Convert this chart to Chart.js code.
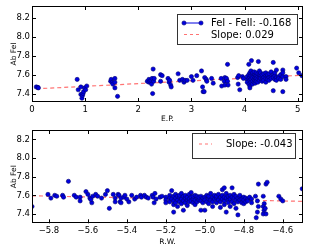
<!DOCTYPE html>
<html>
<head>
<meta charset="utf-8">
<script src="https://cdn.jsdelivr.net/npm/chart.js@4.4.1/dist/chart.umd.min.js"></script>
<style>
    html, body { margin: 0; padding: 0; background: #fff; }
    canvas { position: absolute; left: 0; }
    #ep_chart { top: 0; }
    #rw_chart { top: 125px; }
</style>
</head>
<body>
<canvas id="ep_chart" width="312" height="125"></canvas>
<canvas id="rw_chart" width="312" height="125"></canvas>
<script>
// FeI abundance vs excitation potential (E.P.)
const ep_points = [
    [0.08, 7.47], [0.11, 7.465], [0.12, 7.46],
    [0.85, 7.55], [0.87, 7.44], [0.92, 7.47], [0.92, 7.39], [0.94, 7.35], [0.95, 7.38], [0.96, 7.40],
    [0.97, 7.42], [0.99, 7.46], [1.01, 7.44], [1.03, 7.48],
    [1.48, 7.53], [1.49, 7.55], [1.51, 7.52], [1.52, 7.50], [1.56, 7.56], [1.56, 7.52], [1.56, 7.46], [1.61, 7.37],
    [2.17, 7.53], [2.20, 7.52], [2.20, 7.55], [2.22, 7.53], [2.24, 7.54], [2.25, 7.50], [2.26, 7.56], [2.28, 7.66],
    [2.27, 7.40], [2.29, 7.53], [2.30, 7.56],
    [2.42, 7.60], [2.45, 7.59], [2.42, 7.53], [2.56, 7.56], [2.58, 7.52], [2.59, 7.54], [2.61, 7.49], [2.62, 7.47],
    [2.75, 7.61], [2.78, 7.54], [2.83, 7.55], [2.86, 7.52], [2.88, 7.54], [2.92, 7.54],
    [3.00, 7.58], [3.03, 7.54], [3.10, 7.59],
    [3.19, 7.64], [3.21, 7.47], [3.22, 7.42], [3.24, 7.42], [3.25, 7.57], [3.28, 7.55], [3.29, 7.53], [3.38, 7.56], [3.41, 7.51],
    [3.56, 7.56], [3.57, 7.48], [3.62, 7.53], [3.63, 7.57], [3.63, 7.49], [3.66, 7.56], [3.68, 7.71], [3.68, 7.53], [3.69, 7.49],
    [3.87, 7.57], [3.88, 7.50], [3.89, 7.59], [3.91, 7.44], [3.96, 7.58], [3.98, 7.56],
    [4.05, 7.55], [4.05, 7.58], [4.05, 7.52], [4.08, 7.60], [4.08, 7.56], [4.08, 7.71], [4.08, 7.50],
    [4.10, 7.62], [4.10, 7.57], [4.10, 7.54], [4.10, 7.48], [4.10, 7.46],
    [4.12, 7.59], [4.12, 7.55], [4.12, 7.52], [4.12, 7.64], [4.13, 7.75],
    [4.15, 7.60], [4.15, 7.57], [4.15, 7.53], [4.15, 7.50], [4.15, 7.62],
    [4.18, 7.58], [4.18, 7.55], [4.18, 7.61], [4.18, 7.52], [4.18, 7.63],
    [4.20, 7.57], [4.20, 7.60], [4.20, 7.54], [4.20, 7.51],
    [4.22, 7.59], [4.22, 7.56], [4.22, 7.62], [4.22, 7.53],
    [4.25, 7.58], [4.25, 7.55], [4.26, 7.74], [4.25, 7.61], [4.25, 7.52],
    [4.28, 7.57], [4.28, 7.60], [4.28, 7.54], [4.28, 7.64],
    [4.30, 7.59], [4.30, 7.56], [4.30, 7.62],
    [4.33, 7.58], [4.33, 7.55], [4.33, 7.53], [4.33, 7.60],
    [4.36, 7.57], [4.36, 7.61], [4.36, 7.54],
    [4.40, 7.59], [4.40, 7.56], [4.40, 7.62], [4.40, 7.52],
    [4.43, 7.58], [4.43, 7.55], [4.43, 7.60],
    [4.46, 7.57], [4.46, 7.54], [4.46, 7.61],
    [4.50, 7.58], [4.50, 7.56], [4.50, 7.63],
    [4.54, 7.73], [4.54, 7.43], [4.54, 7.60], [4.54, 7.57],
    [4.57, 7.59], [4.57, 7.55], [4.57, 7.62],
    [4.60, 7.65], [4.60, 7.57], [4.60, 7.54],
    [4.64, 7.58], [4.64, 7.56], [4.68, 7.60], [4.68, 7.55],
    [4.72, 7.65], [4.72, 7.42], [4.72, 7.58], [4.72, 7.62], [4.78, 7.58], [4.78, 7.55],
    [4.98, 7.67], [5.02, 7.62], [5.08, 7.59]
];
const ep_fit_x = [0.08, 5.1];
const ep_fit_y = [7.45, 7.595];

// FeI abundance vs reduced width (R.W.)
const rw_points = [
    [-5.887, 7.48], [-5.805, 7.61], [-5.79, 7.57], [-5.77, 7.60], [-5.76, 7.59], [-5.73, 7.60], [-5.725, 7.58],
    [-5.70, 7.75], [-5.67, 7.60], [-5.66, 7.58], [-5.64, 7.58], [-5.64, 7.54], [-5.61, 7.64], [-5.60, 7.61],
    [-5.59, 7.57], [-5.58, 7.52], [-5.585, 7.555], [-5.575, 7.59], [-5.56, 7.61], [-5.55, 7.59], [-5.53, 7.57],
    [-5.51, 7.61], [-5.50, 7.65], [-5.49, 7.46], [-5.47, 7.61], [-5.46, 7.57], [-5.46, 7.53], [-5.445, 7.61],
    [-5.44, 7.60], [-5.435, 7.53], [-5.43, 7.52], [-5.43, 7.57], [-5.415, 7.58], [-5.41, 7.60], [-5.40, 7.56],
    [-5.39, 7.53], [-5.375, 7.60], [-5.36, 7.56], [-5.35, 7.58], [-5.33, 7.60], [-5.325, 7.58], [-5.31, 7.60],
    [-5.30, 7.58], [-5.29, 7.57], [-5.27, 7.60], [-5.265, 7.58], [-5.26, 7.52], [-5.256, 7.62], [-5.25, 7.56],
    [-5.23, 7.58], [-5.22, 7.59],
    [-5.20, 7.58], [-5.20, 7.55], [-5.20, 7.52], [-5.18, 7.60], [-5.18, 7.57], [-5.18, 7.53],
    [-5.17, 7.65], [-5.17, 7.56], [-5.16, 7.42], [-5.16, 7.59], [-5.16, 7.54], [-5.16, 7.50],
    [-5.15, 7.57], [-5.15, 7.52], [-5.15, 7.61], [-5.14, 7.55], [-5.14, 7.59], [-5.14, 7.48],
    [-5.13, 7.58], [-5.13, 7.53], [-5.13, 7.60], [-5.12, 7.56], [-5.12, 7.51], [-5.12, 7.62],
    [-5.11, 7.59], [-5.11, 7.44], [-5.11, 7.54], [-5.10, 7.57], [-5.10, 7.52], [-5.10, 7.60],
    [-5.09, 7.55], [-5.09, 7.58], [-5.09, 7.49], [-5.08, 7.61], [-5.08, 7.56], [-5.08, 7.53],
    [-5.07, 7.58], [-5.07, 7.54], [-5.07, 7.63], [-5.06, 7.56], [-5.06, 7.52], [-5.06, 7.59],
    [-5.05, 7.60], [-5.05, 7.55], [-5.05, 7.50], [-5.04, 7.57], [-5.04, 7.53], [-5.04, 7.59],
    [-5.03, 7.55], [-5.03, 7.58], [-5.02, 7.44], [-5.02, 7.59], [-5.02, 7.54], [-5.01, 7.57], [-5.01, 7.52],
    [-5.00, 7.44], [-5.00, 7.58], [-5.00, 7.55], [-4.99, 7.60], [-4.99, 7.53],
    [-4.98, 7.56], [-4.98, 7.59], [-4.98, 7.51], [-4.97, 7.62], [-4.97, 7.55],
    [-4.96, 7.58], [-4.96, 7.53], [-4.96, 7.48], [-4.95, 7.60], [-4.95, 7.56],
    [-4.94, 7.57], [-4.94, 7.52], [-4.94, 7.59], [-4.93, 7.55], [-4.93, 7.61],
    [-4.92, 7.58], [-4.92, 7.53], [-4.92, 7.47], [-4.91, 7.66], [-4.91, 7.56], [-4.91, 7.60],
    [-4.90, 7.68], [-4.90, 7.54], [-4.90, 7.50], [-4.90, 7.58], [-4.89, 7.42], [-4.89, 7.57], [-4.89, 7.62],
    [-4.88, 7.55], [-4.88, 7.52], [-4.88, 7.59], [-4.87, 7.60], [-4.87, 7.48], [-4.87, 7.56],
    [-4.86, 7.68], [-4.86, 7.53], [-4.86, 7.58], [-4.85, 7.57], [-4.85, 7.51], [-4.85, 7.61],
    [-4.84, 7.55], [-4.84, 7.59], [-4.84, 7.46], [-4.83, 7.39], [-4.83, 7.57], [-4.83, 7.53],
    [-4.82, 7.58], [-4.82, 7.55], [-4.82, 7.60], [-4.81, 7.56], [-4.81, 7.52],
    [-4.80, 7.51], [-4.80, 7.58], [-4.80, 7.55], [-4.79, 7.57], [-4.79, 7.53],
    [-4.78, 7.56], [-4.78, 7.54], [-4.77, 7.58], [-4.76, 7.56], [-4.76, 7.52],
    [-4.74, 7.59], [-4.73, 7.54], [-4.725, 7.48], [-4.73, 7.42], [-4.736, 7.36], [-4.725, 7.72],
    [-4.70, 7.59], [-4.695, 7.51], [-4.70, 7.48], [-4.696, 7.44], [-4.70, 7.40], [-4.686, 7.72],
    [-4.68, 7.74], [-4.686, 7.40], [-4.69, 7.46], [-4.62, 7.59], [-4.61, 7.56], [-4.60, 7.54],
    [-4.50, 7.67]
];
const rw_fit_x = [-5.887, -4.496];
const rw_fit_y = [7.595, 7.535];

const ep_x_ticks = [0, 1, 2, 3, 4, 5];
const rw_x_ticks = [-5.8, -5.6, -5.4, -5.2, -5.0, -4.8, -4.6];
const y_ticks = [7.4, 7.6, 7.8, 8.0, 8.2];

const ep_label = 'FeI - FeII: -0.168';
const ep_slope_label = 'Slope: 0.029';
const rw_slope_label = 'Slope: -0.043';

Chart.defaults.font.family = "'DejaVu Sans', sans-serif";
Chart.defaults.color = '#000';

const POINT_FILL = '#0000e0';
const POINT_EDGE = '#000070';
const FIT_COLOR = 'rgba(255, 40, 40, 0.65)';

function fmt_tick(v, digits) {
    const s = v.toFixed(digits);
    return s.replace('-', '\u2212');
}

// matplotlib style frame with inward ticks on all four sides
const frame_plugin = {
    id: 'frame',
    afterDatasetsDraw(chart) {
        const {ctx, chartArea: a, scales} = chart;
        ctx.save();
        ctx.strokeStyle = '#000';
        ctx.lineWidth = 1;
        ctx.strokeRect(Math.round(a.left) + 0.5, Math.round(a.top) + 0.5,
            Math.round(a.right - a.left) - 1, Math.round(a.bottom - a.top) - 1);
        ctx.beginPath();
        scales.x.ticks.forEach(t => {
            const px = Math.round(scales.x.getPixelForValue(t.value)) + 0.5;
            ctx.moveTo(px, a.bottom); ctx.lineTo(px, a.bottom - 4);
            ctx.moveTo(px, a.top); ctx.lineTo(px, a.top + 4);
        });
        scales.y.ticks.forEach(t => {
            const py = Math.round(scales.y.getPixelForValue(t.value)) + 0.5;
            ctx.moveTo(a.left, py); ctx.lineTo(a.left + 4, py);
            ctx.moveTo(a.right, py); ctx.lineTo(a.right - 4, py);
        });
        ctx.stroke();
        ctx.restore();
    }
};

function make_legend_plugin(box, rows) {
    return {
        id: 'boxlegend',
        afterDraw(chart) {
            const ctx = chart.ctx;
            ctx.save();
            ctx.fillStyle = '#fff';
            ctx.fillRect(box.left, box.top, box.right - box.left, box.bottom - box.top);
            ctx.strokeStyle = '#333';
            ctx.lineWidth = 1;
            ctx.strokeRect(box.left + 0.5, box.top + 0.5, box.right - box.left, box.bottom - box.top);
            ctx.font = "10px 'DejaVu Sans'";
            ctx.textBaseline = 'middle';
            ctx.fillStyle = '#000';
            rows.forEach(r => {
                ctx.beginPath();
                if (r.kind === 'marker') {
                    ctx.strokeStyle = POINT_FILL;
                    ctx.setLineDash([]);
                } else {
                    ctx.strokeStyle = FIT_COLOR;
                    ctx.setLineDash([3, 3]);
                }
                ctx.moveTo(r.x0, r.y + 0.5);
                ctx.lineTo(r.x1, r.y + 0.5);
                ctx.stroke();
                ctx.setLineDash([]);
                if (r.kind === 'marker') {
                    [r.x0, r.x1].forEach(px => {
                        ctx.beginPath();
                        ctx.arc(px, r.y + 0.5, 2.1, 0, Math.PI * 2);
                        ctx.fillStyle = POINT_FILL;
                        ctx.fill();
                        ctx.strokeStyle = POINT_EDGE;
                        ctx.lineWidth = 0.6;
                        ctx.stroke();
                        ctx.lineWidth = 1;
                    });
                }
                ctx.fillStyle = '#000';
                ctx.fillText(r.text, r.tx, r.y + 1);
            });
            ctx.restore();
        }
    };
}

function create_chart(element_id, points, fit_x, fit_y, x_ticks, x_min, x_max, x_digits,
                      y_min, y_max, x_title, lay, legend) {
    const config = {
        type: 'scatter',
        data: {
            datasets: [
                {
                    data: points.map(p => ({x: p[0], y: p[1]})),
                    pointRadius: 2.1,
                    pointBackgroundColor: POINT_FILL,
                    pointBorderColor: POINT_EDGE,
                    pointBorderWidth: 0.6,
                    showLine: false
                },
                {
                    data: fit_x.map((x, i) => ({x: x, y: fit_y[i]})),
                    showLine: true,
                    pointRadius: 0,
                    borderColor: FIT_COLOR,
                    borderWidth: 1.2,
                    borderDash: [4, 3]
                }
            ]
        },
        options: {
            responsive: false,
            animation: false,
            events: [],
            layout: {padding: {top: lay.top, right: 9, left: 0, bottom: 0}},
            plugins: {legend: {display: false}, tooltip: {enabled: false}},
            scales: {
                x: {
                    type: 'linear',
                    min: x_min,
                    max: x_max,
                    afterBuildTicks: s => { s.ticks = x_ticks.map(v => ({value: v})); },
                    afterFit: s => {
                        s.height = lay.x_height;
                        s.paddingLeft = 0; s.paddingRight = 0;
                    },
                    grid: {display: false, drawTicks: false},
                    border: {display: false},
                    ticks: {
                        font: {size: 8.5},
                        padding: lay.x_tick_pad,
                        maxRotation: 0,
                        callback: v => fmt_tick(v, x_digits)
                    },
                    title: {
                        display: true,
                        text: x_title,
                        font: {size: 7.5},
                        padding: {top: 0, bottom: lay.x_title_pad}
                    }
                },
                y: {
                    type: 'linear',
                    min: y_min,
                    max: y_max,
                    afterBuildTicks: s => { s.ticks = y_ticks.map(v => ({value: v})); },
                    afterFit: s => {
                        s.width = 32;
                        s.paddingTop = 0; s.paddingBottom = 0;
                    },
                    grid: {display: false, drawTicks: false},
                    border: {display: false},
                    ticks: {
                        font: {size: 8.5},
                        padding: 2,
                        callback: v => v.toFixed(1)
                    },
                    title: {
                        display: true,
                        text: 'Ab FeI',
                        font: {size: 7.5},
                        padding: {top: 10, bottom: 0}
                    }
                }
            }
        },
        plugins: [frame_plugin, make_legend_plugin(legend.box, legend.rows)]
    };

    return new Chart(document.getElementById(element_id), config);
}

create_chart('ep_chart', ep_points, ep_fit_x, ep_fit_y, ep_x_ticks, 0, 5.1, 0,
    7.31, 8.33, 'E.P.',
    {top: 6, x_height: 23, x_tick_pad: 3, x_title_pad: 1.5},
    {
        box: {left: 177, top: 14, right: 297, bottom: 44},
        rows: [
            {kind: 'marker', x0: 184, x1: 201, y: 22.5, tx: 211, text: ep_label},
            {kind: 'dash', x0: 184, x1: 201, y: 34, tx: 211, text: ep_slope_label}
        ]
    });

create_chart('rw_chart', rw_points, rw_fit_x, rw_fit_y, rw_x_ticks, -5.887, -4.496, 1,
    7.30, 8.30, 'R.W.',
    {top: 5, x_height: 26.7, x_tick_pad: 2, x_title_pad: 3},
    {
        box: {left: 192, top: 8, right: 295, bottom: 33},
        rows: [
            {kind: 'dash', x0: 199, x1: 212, y: 18.5, tx: 226, text: rw_slope_label}
        ]
    });
</script>
</body>
</html>
